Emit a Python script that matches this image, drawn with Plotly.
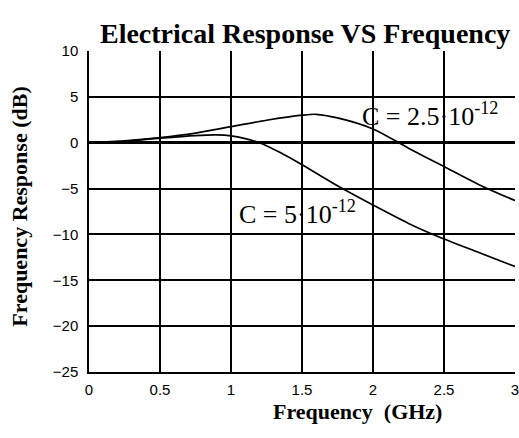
import plotly.graph_objects as go

# Frequency axis samples (GHz) and response (dB) for the two capacitances
freq_a = [0, 0.25, 0.5, 0.75, 1.0, 1.25, 1.5, 1.6, 1.75, 2.0, 2.25, 2.5, 2.75, 3.0]
resp_a = [0, 0.2, 0.55, 1.05, 1.75, 2.45, 3.0, 3.1, 2.7, 1.5, -0.6, -2.6, -4.6, -6.3]

freq_b = [0, 0.25, 0.5, 0.75, 0.9, 1.0, 1.1, 1.2, 1.35, 1.5, 1.75, 2.0, 2.25, 2.5, 2.75, 3.0]
resp_b = [0, 0.15, 0.5, 0.78, 0.85, 0.75, 0.45, 0, -1.1, -2.4, -4.7, -6.8, -8.8, -10.5, -12.0, -13.5]

x_ticks = [0, 0.5, 1, 1.5, 2, 2.5, 3]
x_tick_text = ["0", "0.5", "1", "1.5", "2", "2.5", "3"]
y_ticks = [10, 5, 0, -5, -10, -15, -20, -25]

label_a = "C = 2.5·10<sup>-12</sup>"
label_b = "C = 5·10<sup>-12</sup>"

serif = "Liberation Serif, Times New Roman, serif"
sans = "Liberation Sans, Arial, sans-serif"

fig = go.Figure()
for fx, fy in ((freq_a, resp_a), (freq_b, resp_b)):
    fig.add_trace(go.Scatter(
        x=fx, y=fy, mode="lines",
        line=dict(color="black", width=1.7, shape="spline", smoothing=0.8),
        showlegend=False, hoverinfo="skip",
    ))

# curve labels
fig.add_annotation(x=2.40, y=3.1, xref="x", yref="y", text=label_a,
                   showarrow=False, font=dict(family=serif, size=26, color="black"))
fig.add_annotation(x=1.47, y=-7.6, xref="x", yref="y", text=label_b,
                   showarrow=False, font=dict(family=serif, size=26, color="black"))

# axis titles
fig.add_annotation(x=0.63, y=-0.1215, xref="paper", yref="paper",
                   text="<b>Frequency\u00a0\u00a0(GHz)</b>", showarrow=False,
                   xanchor="center", yanchor="middle",
                   font=dict(family=serif, size=22, color="black"))
fig.add_annotation(x=-0.162, y=0.515, xref="paper", yref="paper",
                   text="<b>Frequency Response (dB)</b>", showarrow=False,
                   textangle=-90, xanchor="center", yanchor="middle",
                   font=dict(family=serif, size=22, color="black"))

fig.update_layout(
    width=519, height=438,
    margin=dict(l=89, r=0, t=51, b=66),
    paper_bgcolor="white", plot_bgcolor="white",
    title=dict(text="<b>Electrical Response VS Frequency</b>",
               x=0.588, xanchor="center", y=0.925, yanchor="middle",
               font=dict(family=serif, size=28, color="black")),
    xaxis=dict(
        range=[0, 3], tickvals=x_ticks, ticktext=x_tick_text,
        showgrid=True, gridcolor="black", gridwidth=1.5,
        showline=True, linecolor="black", linewidth=2, mirror=False,
        zeroline=False, ticks="", ticklabelstandoff=3,
        ticklabeloverflow="allow",
        tickfont=dict(family=sans, size=15, color="black"),
    ),
    yaxis=dict(
        range=[-25, 10], tickvals=y_ticks,
        showgrid=True, gridcolor="black", gridwidth=2.2,
        showline=True, linecolor="black", linewidth=1.5,
        zeroline=True, zerolinecolor="black", zerolinewidth=2.8,
        ticks="", ticklabelstandoff=6,
        tickfont=dict(family=sans, size=15, color="black"),
    ),
)

fig.write_html("out.html")
